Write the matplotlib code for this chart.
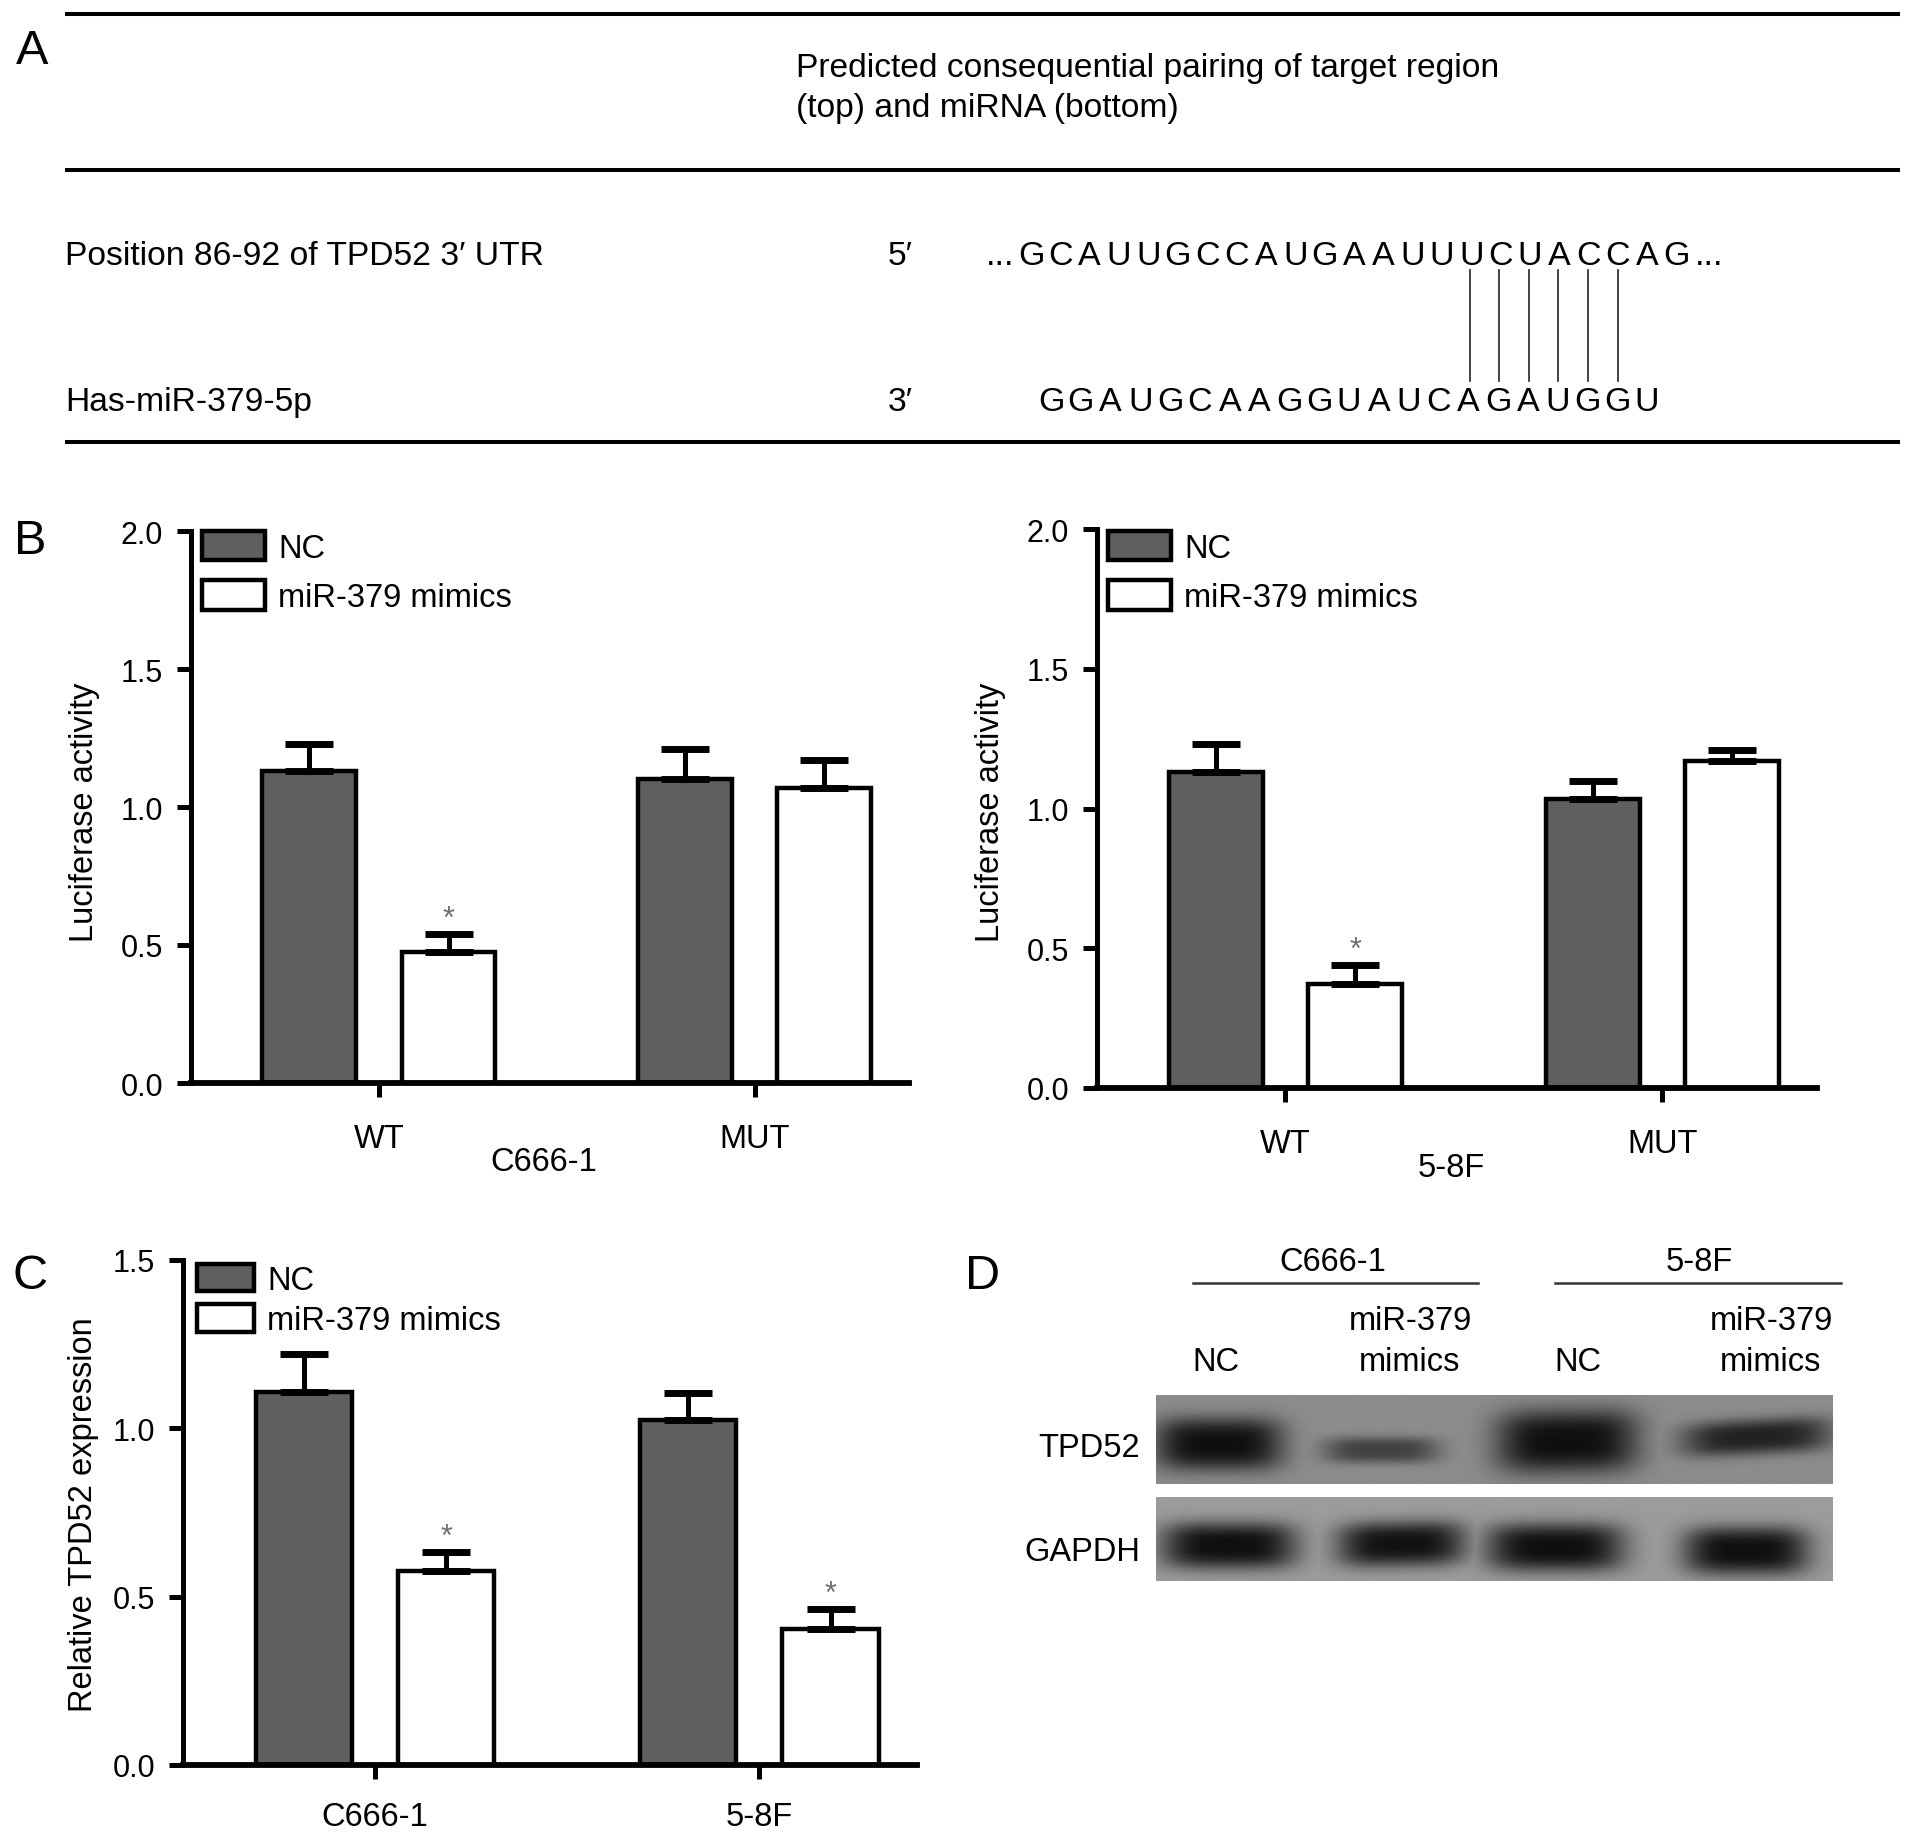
import numpy as np
import matplotlib
matplotlib.use('Agg')
import matplotlib.pyplot as plt

plt.rcParams['font.family'] = ['Liberation Sans', 'DejaVu Sans']

W, H = 1913, 1840
DPI = 100

# ---------------- data ----------------
# Panel A
title_lines = ["Predicted consequential pairing of target region", "(top) and miRNA (bottom)"]
target_label = "Position 86-92 of TPD52 3\u2032 UTR"
mirna_label = "Has-miR-379-5p"
target_end = "5\u2032"
mirna_end = "3\u2032"
target_seq = "GCAUUGCCAUGAAUUUCUACCAG"
mirna_seq = "GGAUGCAAGGUAUCAGAUGGU"
target_paired = [15, 16, 17, 18, 19, 20]
mirna_paired = [14, 15, 16, 17, 18, 19]

# Panel B
luc_groups = ["WT", "MUT"]
luc_c666_nc = [1.13, 1.10]
luc_c666_nc_err = [0.10, 0.11]
luc_c666_mim = [0.475, 1.07]
luc_c666_mim_err = [0.065, 0.10]
luc_c666_sig = [True, False]
luc_58f_nc = [1.13, 1.035]
luc_58f_nc_err = [0.10, 0.065]
luc_58f_mim = [0.372, 1.17]
luc_58f_mim_err = [0.067, 0.04]
luc_58f_sig = [True, False]

# Panel C
expr_groups = ["C666-1", "5-8F"]
expr_nc = [1.108, 1.024]
expr_nc_err = [0.114, 0.08]
expr_mim = [0.576, 0.405]
expr_mim_err = [0.058, 0.059]
expr_sig = [True, True]

# Panel D
blot_cells = ["C666-1", "5-8F"]
blot_lane_labels = ["NC", "miR-379\nmimics", "NC", "miR-379\nmimics"]
blot_proteins = ["TPD52", "GAPDH"]
tpd52_band = [1.0, 0.6, 1.0, 0.85]
gapdh_band = [1.0, 0.98, 1.0, 1.0]

series_labels = ["NC", "miR-379 mimics"]

# ---------------- style / layout ----------------
NC_COLOR = '#5f5f5f'
EDGE_LW = 3.2
SPINE_LW = 3.6
ELW = 3.6
CAPT = 5.0
CAP = 17
TICK_FS = 22
LAB_FS = 23.5
PANEL_FS = 35
FS_PX = LAB_FS * DPI / 72.0

fig = plt.figure(figsize=(W / DPI, H / DPI), dpi=DPI)
bg = fig.add_axes([0, 0, 1, 1], zorder=-5)
bg.set_xlim(0, W)
bg.set_ylim(H, 0)
bg.axis('off')


def px_axes(x0, y0, x1, y1, **kw):
    return fig.add_axes([x0 / W, 1 - y1 / H, (x1 - x0) / W, (y1 - y0) / H], **kw)


def cap_px(size):
    return 0.716 * size * DPI / 72.0


def ctext(x, yc, s, size=LAB_FS, ha='left', **kw):
    """Place text so that its capital letters are vertically centred at yc (pixels)."""
    bg.text(x, yc + cap_px(size) / 2, s, fontsize=size, ha=ha, va='baseline', **kw)


# ---------------- Panel A ----------------
ctext(32, 47, "A", size=PANEL_FS, ha='center')
for yline in (15, 171, 443):
    bg.plot([65, 1900], [yline, yline], color='black', lw=2.9, solid_capstyle='butt')
bg.text(796, 77, title_lines[0], fontsize=24.2, ha='left', va='baseline')
bg.text(796, 117, title_lines[1], fontsize=24.2, ha='left', va='baseline')

top_base, bot_base = 265, 411
bg.text(65, top_base, target_label, fontsize=24.2, va='baseline')
bg.text(65, bot_base, mirna_label, fontsize=24.2, va='baseline')
bg.text(888, top_base, target_end, fontsize=24.2, va='baseline')
bg.text(888, bot_base, mirna_end, fontsize=24.2, va='baseline')

top_x0, top_pitch = 1031, 29.35
bot_x0, bot_pitch = 1051, 29.8
top_x = top_x0 + top_pitch * np.arange(len(target_seq))
bot_x = bot_x0 + bot_pitch * np.arange(len(mirna_seq))
for xc, ch in zip(top_x, target_seq):
    bg.text(xc, top_base, ch, fontsize=24.5, ha='center', va='baseline')
for xc, ch in zip(bot_x, mirna_seq):
    bg.text(xc, bot_base, ch, fontsize=24.5, ha='center', va='baseline')
bg.text(top_x[0] - 17, top_base, "...", fontsize=24.5, ha='right', va='baseline')
bg.text(top_x[-1] + 18, top_base, "...", fontsize=24.5, ha='left', va='baseline')
for it, ib in zip(target_paired, mirna_paired):
    xl = (top_x[it] + bot_x[ib]) / 2
    bg.plot([xl, xl], [271, 382], color='#222222', lw=1.2)


# ---------------- bar panels ----------------
def bar_panel(ax, groups, nc, nc_err, mim, mim_err, sig, ymax, yticks, leg_xy, leg_box,
              leg_sep, xpad):
    x = np.arange(len(groups))
    off, w = 0.185, 0.25
    ax.bar(x - off, nc, w, color=NC_COLOR, edgecolor='black', linewidth=EDGE_LW,
           label=series_labels[0], zorder=2)
    ax.bar(x + off, mim, w, color='white', edgecolor='black', linewidth=EDGE_LW,
           label=series_labels[1], zorder=2)
    for xs, ys, es in [(x - off, nc, nc_err), (x + off, mim, mim_err)]:
        ax.errorbar(xs, ys, yerr=[np.zeros(len(es)), es], fmt='none', ecolor='black',
                    elinewidth=ELW, capsize=CAP, capthick=CAPT, zorder=3)
    for xi, yi, ei, s in zip(x + off, mim, mim_err, sig):
        if s:
            ax.annotate('*', (xi, yi + ei), xytext=(0, 0), textcoords='offset points',
                        ha='center', va='bottom', fontsize=22, color='#707070')
    ax.set_xlim(-0.5, 1.41)
    ax.set_ylim(0, ymax)
    ax.set_yticks(yticks)
    ax.set_yticklabels([f"{t:.1f}" for t in yticks])
    ax.set_xticks(x)
    ax.set_xticklabels(groups)
    for sp in ('top', 'right'):
        ax.spines[sp].set_visible(False)
    ax.spines['left'].set_linewidth(SPINE_LW)
    ax.spines['bottom'].set_linewidth(SPINE_LW + 0.6)
    ax.tick_params(axis='y', direction='out', length=10, width=SPINE_LW, pad=10,
                   labelsize=TICK_FS)
    ax.tick_params(axis='x', direction='out', length=10, width=SPINE_LW, pad=xpad,
                   labelsize=LAB_FS)
    ax.patch.set_alpha(0)
    hl, hh = leg_box
    ax.legend(loc='upper left', bbox_to_anchor=(leg_xy[0] / W, 1 - leg_xy[1] / H),
              bbox_transform=fig.transFigure, frameon=False, borderpad=0, borderaxespad=0,
              fontsize=LAB_FS, handlelength=hl / FS_PX, handleheight=hh / FS_PX,
              handletextpad=13 / FS_PX, labelspacing=leg_sep)


axB1 = px_axes(191, 532, 909, 1084)
bar_panel(axB1, luc_groups, luc_c666_nc, luc_c666_nc_err, luc_c666_mim, luc_c666_mim_err,
          luc_c666_sig, 2.0, [0.0, 0.5, 1.0, 1.5, 2.0], (202, 532), (63, 33), 0.5, 18.5)
axB2 = px_axes(1097, 530, 1817, 1089)
bar_panel(axB2, luc_groups, luc_58f_nc, luc_58f_nc_err, luc_58f_mim, luc_58f_mim_err,
          luc_58f_sig, 2.0, [0.0, 0.5, 1.0, 1.5, 2.0], (1108, 532), (63, 33), 0.5, 18.5)
axC = px_axes(183, 1261, 917, 1766)
bar_panel(axC, expr_groups, expr_nc, expr_nc_err, expr_mim, expr_mim_err,
          expr_sig, 1.5, [0.0, 0.5, 1.0, 1.5], (197, 1265), (57, 30), 0.25, 16)

ctext(30, 537, "B", size=PANEL_FS, ha='center')
ctext(30, 1272, "C", size=PANEL_FS, ha='center')
ctext(983, 1272, "D", size=PANEL_FS, ha='center')

bg.text(84, 812, "Luciferase activity", fontsize=LAB_FS, rotation=90, ha='center', va='center')
bg.text(991, 812, "Luciferase activity", fontsize=LAB_FS, rotation=90, ha='center', va='center')
bg.text(84, 1515, "Relative TPD52 expression", fontsize=LAB_FS, rotation=90, ha='center', va='center')
ctext(544, 1159, blot_cells[0], ha='center')
ctext(1451, 1165, blot_cells[1], ha='center')

# ---------------- Panel D ----------------
cell_centers = [1333, 1699]
cell_lines = [(1193, 1478), (1555, 1841)]
for cx, name, (l0, l1) in zip(cell_centers, blot_cells, cell_lines):
    ctext(cx, 1259, name, ha='center')
    bg.plot([l0, l1], [1284, 1284], color='#333333', lw=1.8)

lane_label_x = [1216, 1410, 1578, 1771]
for lx, lab in zip(lane_label_x, blot_lane_labels):
    parts = lab.split("\n")
    if len(parts) == 1:
        ctext(lx, 1359, parts[0], ha='center')
    else:
        ctext(lx, 1318, parts[0], ha='center')
        ctext(lx, 1359, parts[1], ha='center')

ctext(1140, 1445, blot_proteins[0], ha='right')
ctext(1140, 1549, blot_proteins[1], ha='right')

# band geometry (lane units over 4 lanes; vertical fraction from top)
tpd52_cx = [0.37, 1.33, 2.43, 3.55]
tpd52_hw = [0.38, 0.34, 0.42, 0.44]
tpd52_cy = [0.55, 0.62, 0.52, 0.47]
tpd52_th = [0.30, 0.15, 0.36, 0.20]
tpd52_tilt = [0.0, 0.0, -0.03, -0.10]
gapdh_cx = [0.43, 1.45, 2.36, 3.49]
gapdh_hw = [0.40, 0.38, 0.41, 0.37]
gapdh_cy = [0.58, 0.56, 0.60, 0.64]
gapdh_th = [0.28, 0.27, 0.29, 0.29]
gapdh_tilt = [0.0, -0.04, 0.0, 0.0]


def blot_image(intens, cx, hw, cy, th, tilt, bgval, nx=680, ny=90):
    xs = np.linspace(0, 4, nx)
    ys = np.linspace(0, 1, ny)
    X, Y = np.meshgrid(xs, ys)
    dark = np.zeros_like(X)
    for I, c, w, yc, t, tl in zip(intens, cx, hw, cy, th, tilt):
        yy = yc + tl * (X - c)
        prof = np.exp(-np.abs((X - c) / w) ** 4) * np.exp(-np.abs((Y - yy) / t) ** 3)
        dark = np.maximum(dark, I * prof)
    return bgval * (1 - dark) + 0.06 * dark


axT = px_axes(1156, 1396, 1833, 1485)
axT.imshow(blot_image(tpd52_band, tpd52_cx, tpd52_hw, tpd52_cy, tpd52_th, tpd52_tilt, 0.55),
           cmap='gray', vmin=0, vmax=1, aspect='auto', extent=(0, 4, 1, 0),
           interpolation='bilinear')
axT.axis('off')
axG = px_axes(1156, 1498, 1833, 1582)
axG.imshow(blot_image(gapdh_band, gapdh_cx, gapdh_hw, gapdh_cy, gapdh_th, gapdh_tilt, 0.61),
           cmap='gray', vmin=0, vmax=1, aspect='auto', extent=(0, 4, 1, 0),
           interpolation='bilinear')
axG.axis('off')

fig.savefig('out.png', dpi=DPI, facecolor='white')
